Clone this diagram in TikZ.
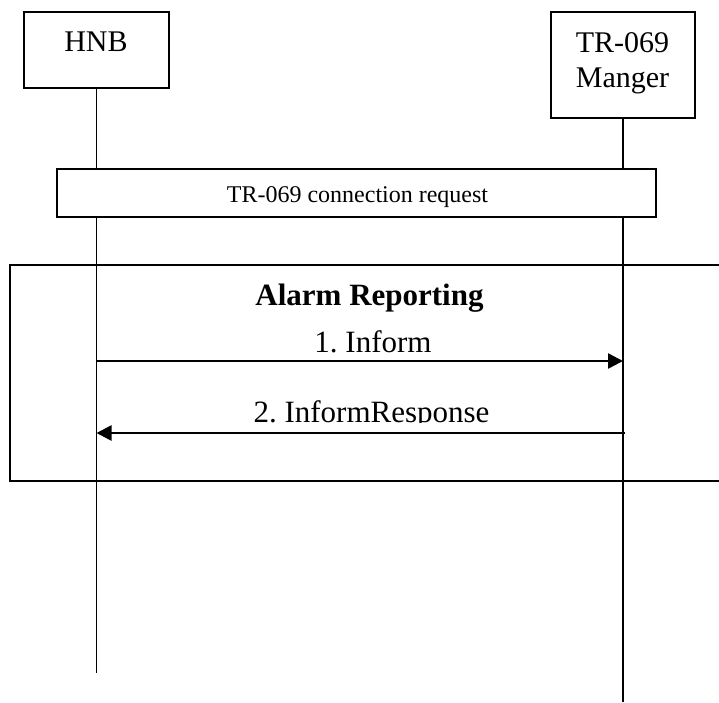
\documentclass[tikz,border=0pt]{standalone}
\usepackage{fontspec}
\setmainfont{Liberation Serif}
\usetikzlibrary{arrows.meta}
\frenchspacing

\begin{document}
\begin{tikzpicture}
		[x=1pt,y=-1pt,line width=1.7pt]
		\tikzstyle{every node}=[inner sep=0pt, anchor=base]
		\tikzstyle{box}=[draw, rectangle, fill=white, anchor=center]
		\tikzstyle{msg}=[line width=2.5pt, -{Triangle[length=15pt,width=15pt]}]
		\tikzstyle{big}=[font=\fontsize{30}{36}\selectfont]
		\useasboundingbox (0,0) rectangle (719,702);
		%-----entities
		 \node[box, minimum width=145pt, minimum height=76pt]  (HNB) at (96.5,50) {};
		 \node[box, minimum width=144pt, minimum height=106pt]  (TR) at (623,65) {};
		 \node[big]  (hnbtxt) at (96,51) {HNB};
		 \node[big]  (trtxt) at (622.5,52) {TR-069};
		 \node[big]  (mgtxt) at (622.5,87) {Manger};
		 
		 \coordinate (HNBend) at (96.5,673);
		 \coordinate (TRend) at (623,702);
		 \foreach \from/\to in {HNB/HNBend, TR/TRend}
		 \draw (\from) -- (\to);
		 
		%-----connection request
		 \node[box, minimum width=599pt, minimum height=48pt]  (CR) at (356.5,193) {};
		 \node[font=\fontsize{24}{29}\selectfont]  (crtxt) at (357.5,202) {TR-069 connection request};
		 
		%-----alarm frame
		 \coordinate (a1) at (720,265);
		 \coordinate (a2) at (10,265);
		 \coordinate (a3) at (10,481);
		 \coordinate (a4) at (720,481);
		 \draw (a1) -- (a2) -- (a3) -- (a4);
		 \node[font=\fontsize{31}{37}\selectfont\bfseries]  (alarm) at (369.5,305) {Alarm Reporting};
		 
		%-----messages
		 \coordinate (h1) at (96.5,361);
		 \coordinate (t1) at (623,361);
		 \coordinate (t2) at (625,433);
		 \coordinate (h2) at (96.5,433);
		 \draw[msg] (h1) -- (t1);
		 \draw[msg] (t2) -- (h2);
		 \node[font=\fontsize{31}{37}\selectfont]  (inform) at (373,352) {1. Inform};
		 \begin{scope}
		 \clip (200,380) rectangle (540,422);
		 \node[font=\fontsize{31}{37}\selectfont]  (response) at (371.5,422) {2. InformResponse};
		 \end{scope}
		 
\end{tikzpicture}
\end{document}
